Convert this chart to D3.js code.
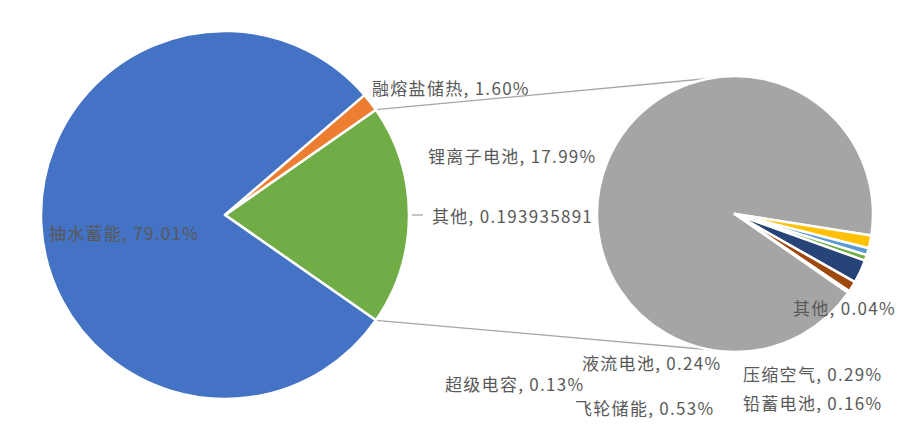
<!DOCTYPE html>
<html>
<head>
<meta charset="utf-8">
<script src="https://cdn.jsdelivr.net/npm/d3@7"></script>
<style>
    html, body { margin: 0; padding: 0; background: #fff; }
    svg text { font-family: "Noto Sans CJK SC", "Noto Sans", sans-serif; }
</style>
</head>
<body>
<div id="chart"></div>
<script>
(function () {
    'use strict';

    // main pie: the first entry is the combined "other" slice
    var mainNames = ['其他', '抽水蓄能', '融熔盐储热'];
    var mainValues = [0.193935891, 0.7901, 0.016];
    var mainColors = ['#70AD47', '#4472C4', '#ED7D31'];

    // secondary pie (break-down of 其他)
    var secNames = ['锂离子电池', '压缩空气', '铅蓄电池', '超级电容', '飞轮储能', '液流电池', '其他'];
    var secValues = [0.1799, 0.0029, 0.0016, 0.0013, 0.0053, 0.0024, 0.0004];
    var secColors = ['#A5A5A5', '#FFC000', '#5B9BD5', '#70AD47', '#264478', '#9E480E', '#636363'];

    // label anchor points (layout only)
    var mainLabelPos = [[432, 215], [49, 232], [372, 87]];
    var secLabelPos = [[428, 155], [743, 373], [743, 402], [445, 383], [575, 407], [582, 362], [793, 307]];

    var width = 902, height = 439;
    var mainC = [225, 215], mainR = 184;
    var secC = [735, 214], secR = 138;
    var deg = Math.PI / 180;

    var svg = d3.select('#chart')
        .append('svg')
        .attr('width', width)
        .attr('height', height);

    var pct = d3.format('.2%');

    // main pie: "other" slice centred on 3 o'clock
    var mainStart = 90 * deg - mainValues[0] * Math.PI;
    var mainPie = d3.pie().sort(null).value(function (d) { return d; })
        .startAngle(mainStart).endAngle(mainStart + 2 * Math.PI);
    var mainArcs = mainPie(mainValues);
    var mainArc = d3.arc().innerRadius(0).outerRadius(mainR);

    // secondary pie: small slices start just below 3 o'clock
    var secTotal = d3.sum(secValues);
    var smallStart = 99 * deg;
    var secStart = smallStart - (secValues[0] / secTotal) * 2 * Math.PI + 2 * Math.PI;
    var secPie = d3.pie().sort(null).value(function (d) { return d; })
        .startAngle(secStart).endAngle(secStart + 2 * Math.PI);
    var secArcs = secPie(secValues);
    var secArc = d3.arc().innerRadius(0).outerRadius(secR);

    // connector lines from the "other" slice edges to the secondary pie
    var other = mainArcs[0];
    var edges = [other.startAngle, other.endAngle];
    var targets = [[secC[0], secC[1] - secR], [secC[0], secC[1] + secR]];
    svg.selectAll('line.connector')
        .data(edges)
        .enter()
        .append('line')
        .attr('class', 'connector')
        .attr('x1', function (a) { return mainC[0] + mainR * Math.sin(a); })
        .attr('y1', function (a) { return mainC[1] - mainR * Math.cos(a); })
        .attr('x2', function (a, i) { return targets[i][0]; })
        .attr('y2', function (a, i) { return targets[i][1]; })
        .attr('stroke', '#A6A6A6')
        .attr('stroke-width', 1.3);

    var mainG = svg.append('g')
        .attr('transform', 'translate(' + mainC[0] + ',' + mainC[1] + ')');
    mainG.selectAll('path')
        .data(mainArcs)
        .enter()
        .append('path')
        .attr('d', mainArc)
        .attr('fill', function (d, i) { return mainColors[i]; })
        .attr('stroke', '#fff')
        .attr('stroke-width', 2.5)
        .attr('stroke-linejoin', 'round');

    var secG = svg.append('g')
        .attr('transform', 'translate(' + secC[0] + ',' + secC[1] + ')');
    secG.selectAll('path')
        .data(secArcs)
        .enter()
        .append('path')
        .attr('d', secArc)
        .attr('fill', function (d, i) { return secColors[i]; })
        .attr('stroke', '#fff')
        .attr('stroke-width', 2.5)
        .attr('stroke-linejoin', 'round');

    // leader line for the combined slice label
    svg.append('line')
        .attr('x1', 412).attr('x2', 423)
        .attr('y1', mainLabelPos[0][1]).attr('y2', mainLabelPos[0][1])
        .attr('stroke', '#A6A6A6')
        .attr('stroke-width', 1.3);

    function labelText(name, v, raw) {
        return name + ', ' + (raw ? String(v) : pct(v));
    }

    var labels = mainNames.map(function (n, i) {
        return { text: labelText(n, mainValues[i], i === 0), pos: mainLabelPos[i] };
    }).concat(secNames.map(function (n, i) {
        return { text: labelText(n, secValues[i], false), pos: secLabelPos[i] };
    }));

    svg.selectAll('text.label')
        .data(labels)
        .enter()
        .append('text')
        .attr('class', 'label')
        .attr('x', function (d) { return d.pos[0]; })
        .attr('y', function (d) { return d.pos[1]; })
        .attr('dominant-baseline', 'central')
        .attr('fill', '#595959')
        .style('font-size', '17px')
        .style('letter-spacing', '1.3px')
        .text(function (d) { return d.text; });
})();
</script>
</body>
</html>
